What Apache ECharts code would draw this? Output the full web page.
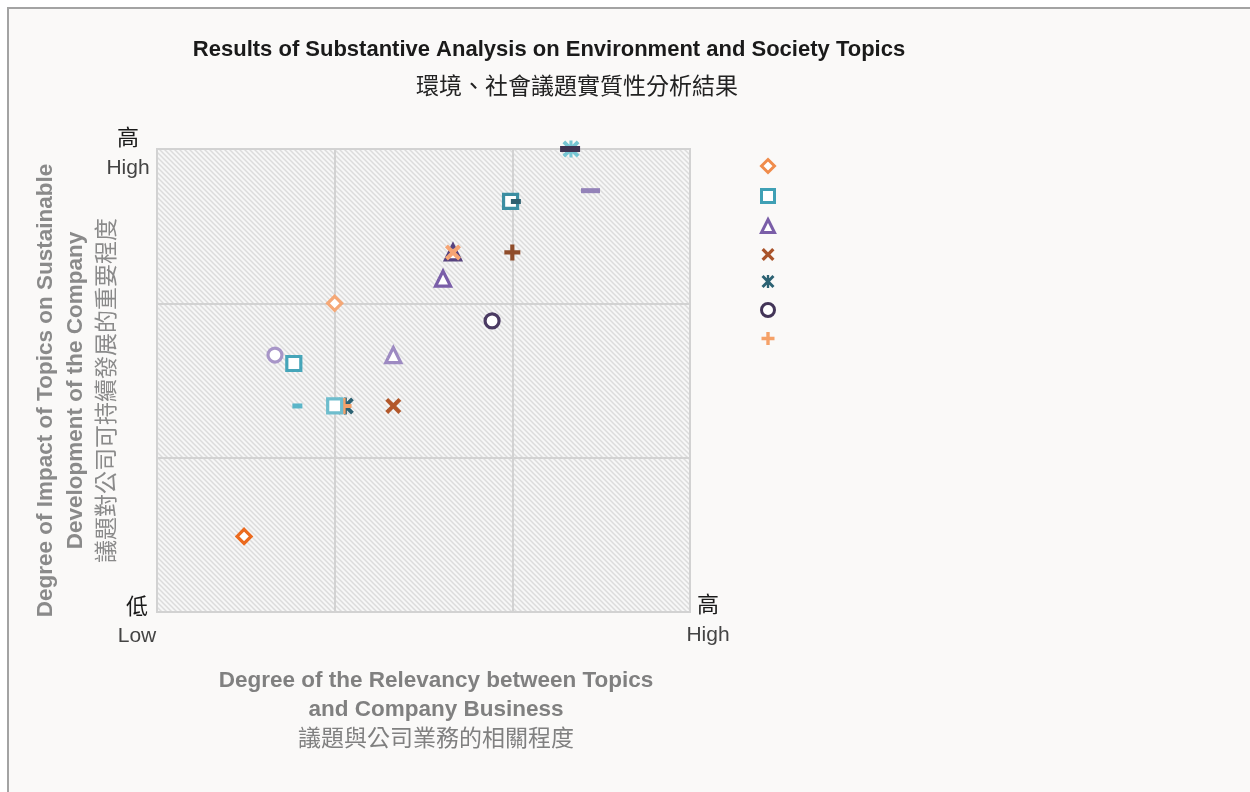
<!DOCTYPE html>
<html>
<head>
<meta charset="utf-8">
<title>環境、社會議題實質性分析結果</title>
<script src="https://cdn.jsdelivr.net/npm/echarts@6/dist/echarts.min.js"></script>
<style>
  html, body { margin: 0; padding: 0; background: #fff; }
  #chart { width: 1250px; height: 792px; }
</style>
</head>
<body>
<div id="chart"></div>
<script>
// 各系列的數據點 [相關程度, 影響程度]
const diamondData = [[1.0, 2.0], [0.49, 0.49]];
const diamondColors = ['#f5a877', '#eb6a1e'];

const squareData = [[1.99, 2.66], [0.77, 1.61], [1.0, 1.335]];
const squareColors = ['#3b8ea2', '#46a5b9', '#6ebdcd'];

const triangleData = [[1.61, 2.16], [1.33, 1.665], [1.666, 2.33]];
const triangleColors = ['#7a5ea8', '#9d8ac2', '#56427e'];

const crossData = [[1.33, 1.335], [1.666, 2.33]];
const crossColors = ['#b3582b', '#f5a474'];

const starData = [[2.33, 3.0], [1.06, 1.335]];
const starColors = ['#76c5d3', '#2c6273'];

const circleData = [[1.886, 1.886], [0.664, 1.665]];
const circleColors = ['#4a3a62', '#a896c8'];

const plusData = [[2.0, 2.33], [1.05, 1.335]];
const plusColors = ['#8f4c2a', '#f5a168'];

const dashData = [[0.79, 1.335], [2.44, 2.73], [2.325, 3.0], [2.02, 2.66]];
const dashColors = ['#5ab5c8', '#9382b8', '#3f3252', '#2e6070'];
const dashSizes = [[10, 5], [19, 5], [20, 6], [10, 5]];

// 圖例顏色
const legendNames = ['s1', 's2', 's3', 's4', 's5', 's6', 's7'];
const legendColors = ['#f08c4c', '#3fa0b5', '#7a5ea8', '#a9532a', '#2c6273', '#433558', '#f5a168'];

const axisTicks = [0, 1, 2, 3];

const PATH_PLUS = 'path://M3.7,0H6.3V3.7H10V6.3H6.3V10H3.7V6.3H0V3.7H3.7Z';
const PATH_CROSS = 'path://M1.8,0L5,3.2L8.2,0L10,1.8L6.8,5L10,8.2L8.2,10L5,6.8L1.8,10L0,8.2L3.2,5L0,1.8Z';
const PATH_STAR = 'path://M1.6,0L5,3.4L8.4,0L10,1.6L6.6,5L10,8.4L8.4,10L5,6.6L1.6,10L0,8.4L3.4,5L0,1.6Z M4.1,0H5.9V10H4.1Z';

const FONT_EN = 'Liberation Sans, Arial, sans-serif';
const FONT_ZH = 'Noto Sans CJK TC';

// 斜線底紋
function makeHatch() {
  const c = document.createElement('canvas');
  c.width = 5; c.height = 5;
  const ctx = c.getContext('2d');
  ctx.fillStyle = '#f7f7f7';
  ctx.fillRect(0, 0, 5, 5);
  ctx.strokeStyle = '#dcdcdc';
  ctx.lineWidth = 1.5;
  [-5, 0, 5].forEach(off => {
    ctx.beginPath();
    ctx.moveTo(off - 1, -1);
    ctx.lineTo(off + 6, 6);
    ctx.stroke();
  });
  return c;
}

// 空心標記
function hollowSeries(name, symbol, data, colors, size) {
  return {
    name: name,
    type: 'scatter',
    symbol: symbol,
    symbolSize: size,
    itemStyle: { color: '#fff', borderColor: legendColors[legendNames.indexOf(name)], borderWidth: 3.2, opacity: 1 },
    data: data.map((d, i) => ({ value: d, itemStyle: { borderColor: colors[i] } }))
  };
}

// 實心標記
function solidSeries(name, symbol, data, colors, size) {
  return {
    name: name,
    type: 'scatter',
    symbol: symbol,
    symbolSize: size,
    itemStyle: { color: legendColors[legendNames.indexOf(name)], opacity: 1 },
    data: data.map((d, i) => ({ value: d, itemStyle: { color: colors[i] } }))
  };
}

const hollowSymbols = { s1: 'diamond', s2: 'rect', s3: 'triangle', s6: 'circle' };
const solidSymbols = { s4: PATH_CROSS, s5: PATH_STAR, s7: PATH_PLUS };

const chart = echarts.init(document.getElementById('chart'));

const option = {
  backgroundColor: '#fff',
  animation: false,
  graphic: [
    {
      type: 'rect',
      z: -10,
      shape: { x: 8, y: 8, width: 1250, height: 800 },
      style: { fill: '#faf9f8', stroke: '#a3a3a3', lineWidth: 2 }
    }
  ],
  title: [
    {
      text: 'Results of Substantive Analysis on Environment and Society Topics',
      left: 544, top: 34, textAlign: 'center',
      textStyle: { fontFamily: FONT_EN, fontSize: 22, fontWeight: 'bold', color: '#1a1a1a' }
    },
    {
      text: '環境、社會議題實質性分析結果',
      left: 572, top: 69, textAlign: 'center',
      textStyle: { fontFamily: FONT_ZH, fontSize: 23, fontWeight: 'normal', color: '#222' }
    },
    {
      text: '{en|Degree of the Relevancy between Topics}\n{en|and Company Business}\n{zh|議題與公司業務的相關程度}',
      left: 431, top: 662, textAlign: 'center',
      textStyle: {
        rich: {
          en: { fontFamily: FONT_EN, fontSize: 22.5, fontWeight: 'bold', color: '#808080', lineHeight: 28.5, align: 'center' },
          zh: { fontFamily: FONT_ZH, fontSize: 23, fontWeight: 'normal', color: '#808080', lineHeight: 27, align: 'center' }
        }
      }
    }
  ],
  legend: {
    orient: 'vertical',
    left: 755, top: 153,
    itemWidth: 13, itemHeight: 13,
    itemGap: 14,
    selectedMode: false,
    formatter: () => '',
    textStyle: { fontSize: 12 },
    data: legendNames.map((n, i) => ({
      name: n,
      icon: hollowSymbols[n] || solidSymbols[n],
      itemStyle: hollowSymbols[n]
        ? { color: '#fff', borderColor: legendColors[i], borderWidth: 3 }
        : { color: legendColors[i], borderWidth: 0 }
    }))
  },
  grid: {
    left: 157, right: 560, top: 149, bottom: 180,
    show: true,
    backgroundColor: { image: makeHatch(), repeat: 'repeat' },
    borderColor: '#d2d2d2',
    borderWidth: 2
  },
  xAxis: {
    type: 'value',
    min: axisTicks[0], max: axisTicks[axisTicks.length - 1], interval: 1,
    axisLine: { show: false },
    axisTick: { show: false },
    axisLabel: { show: false },
    splitLine: { lineStyle: { color: '#d2d2d2', width: 2 } },
    name: '{a|高}\n{b|High}',
    nameLocation: 'end',
    nameGap: 18,
    nameTextStyle: {
      align: 'center', verticalAlign: 'middle',
      rich: {
        a: { fontFamily: FONT_ZH, fontSize: 22, color: '#1a1a1a', lineHeight: 29, align: 'center', padding: [13, 0, 0, 0] },
        b: { fontFamily: FONT_EN, fontSize: 21, color: '#444', lineHeight: 29, align: 'center', padding: [17, 0, 0, 0] }
      }
    }
  },
  yAxis: {
    type: 'value',
    min: axisTicks[0], max: axisTicks[axisTicks.length - 1], interval: 1,
    axisLine: { show: false },
    axisTick: { show: false },
    splitLine: { lineStyle: { color: '#d2d2d2', width: 2 } },
    axisLabel: {
      margin: 29,
      align: 'center',
      formatter: v => v === 3 ? '{a|高}\n{b|High}' : (v === 0 ? '{c|低}\n{d|Low}' : ''),
      rich: {
        a: { fontFamily: FONT_ZH, fontSize: 22, color: '#1a1a1a', lineHeight: 29, align: 'center', padding: [5, 0, 0, 0] },
        b: { fontFamily: FONT_EN, fontSize: 21, color: '#444', lineHeight: 29, align: 'center', padding: [10, 0, 0, 0] },
        c: { fontFamily: FONT_ZH, fontSize: 22, color: '#1a1a1a', lineHeight: 29, align: 'center', padding: [16, 0, 0, 18] },
        d: { fontFamily: FONT_EN, fontSize: 21, color: '#444', lineHeight: 29, align: 'center', padding: [20, 0, 0, 18] }
      }
    },
    name: '{en|Degree of Impact of Topics on Sustainable}\n{en|Development of the Company}\n{zh|議題對公司可持續發展的重要程度}',
    nameLocation: 'middle',
    nameRotate: 90,
    nameGap: 37,
    nameMoveOverlap: false,
    nameTextStyle: {
      padding: [0, 20, 0, 0],
      rich: {
        en: { fontFamily: FONT_EN, fontSize: 22.5, fontWeight: 'bold', color: '#8a8a8a', lineHeight: 30, align: 'center' },
        zh: { fontFamily: FONT_ZH, fontSize: 23, fontWeight: 'normal', color: '#8a8a8a', lineHeight: 29, align: 'center' }
      }
    }
  },
  series: [
    hollowSeries('s1', 'diamond', diamondData, diamondColors, 14),
    Object.assign(hollowSeries('s2', 'rect', squareData, squareColors, 14), { z: 3 }),
    hollowSeries('s3', 'triangle', triangleData, triangleColors, 15),
    solidSeries('s4', PATH_CROSS, crossData, crossColors, 16),
    solidSeries('s5', PATH_STAR, starData, starColors, 17),
    hollowSeries('s6', 'circle', circleData, circleColors, 14),
    solidSeries('s7', PATH_PLUS, plusData, plusColors, 16),
    {
      name: 'dash',
      type: 'scatter',
      symbol: 'rect',
      z: 4,
      itemStyle: { opacity: 1 },
      data: dashData.map((d, i) => ({ value: d, symbolSize: dashSizes[i], itemStyle: { color: dashColors[i] } }))
    }
  ]
};

chart.setOption(option);
window.addEventListener('resize', () => chart.resize());
</script>
</body>
</html>
